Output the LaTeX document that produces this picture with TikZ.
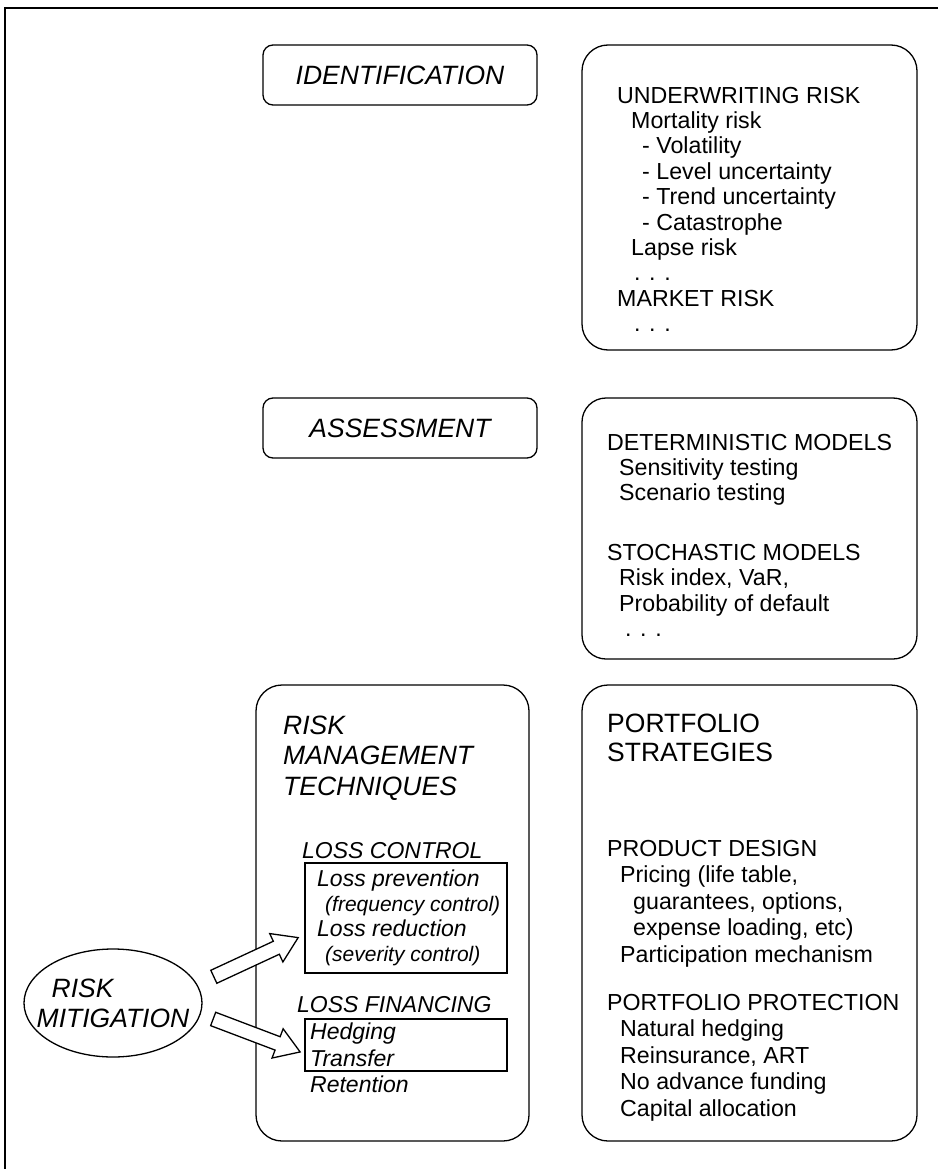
\documentclass[tikz,border=0pt]{standalone}
\usepackage{fontspec}
\setmainfont{Liberation Sans}
\usetikzlibrary{shapes.geometric,shapes.arrows}

\begin{document}
\begin{tikzpicture}[x=1pt,y=-1pt,
  box/.style={draw, line width=1.3pt, rounded corners=26pt, inner sep=0pt},
  tagbox/.style={draw, line width=1.3pt, rounded corners=10pt, inner sep=0pt, minimum width=274pt, minimum height=60pt, font=\fontsize{26.5}{30}\selectfont\itshape},
  inbox/.style={draw, line width=1.3pt, inner sep=0pt, minimum width=202pt},
  txt/.style={anchor=north west, align=left, inner sep=0pt, font=\fontsize{23.2}{25.4}\selectfont},
  headtxt/.style={anchor=north west, align=left, inner sep=0pt, font=\fontsize{26.5}{30.5}\selectfont},
  blockarrow/.style={single arrow, draw, fill=white, line width=1.3pt, inner xsep=0pt, inner ysep=6.5pt, single arrow head extend=8.5pt, single arrow tip angle=66, minimum height=93pt, sloped, midway}]
\useasboundingbox (0,0) rectangle (938,1169);
% Outer frame
\draw[line width=1.3pt] (938,8) -- (5,8) -- (5,1169);
% Define the boxes
\node[tagbox] at (400,75) (ident) {IDENTIFICATION};
\node[box, minimum width=335pt, minimum height=305pt] at (749.5,197.5) (risks) {};
\node[tagbox] at (400,428) (assess) {ASSESSMENT};
\node[box, minimum width=335pt, minimum height=261pt, rounded corners=24pt] at (749.5,528.5) (models) {};
\node[box, minimum width=273pt, minimum height=456pt] at (392.5,913) (techn) {};
\node[box, minimum width=335pt, minimum height=456pt] at (749.5,913) (strat) {};
\node[inbox, minimum height=110pt] at (406,918) (ctrl) {};
\node[inbox, minimum height=52pt] at (406,1045) (fin) {};
\node[ellipse, draw, line width=1.3pt, minimum width=178pt, minimum height=108pt, inner sep=0pt] at (113,1003) (mitig) {};
\node[align=left, inner sep=0pt, font=\fontsize{26.5}{30}\selectfont\itshape] at (mitig) (mitigtxt) {\hspace*{15pt}RISK\\MITIGATION};
% Define the texts
\node[txt] at (617,86.6) (uw) {UNDERWRITING RISK\\\hspace*{14pt}Mortality risk\\\hspace*{25pt}- Volatility\\\hspace*{25pt}- Level uncertainty\\\hspace*{25pt}- Trend uncertainty\\\hspace*{25pt}- Catastrophe\\\hspace*{14pt}Lapse risk\\\hspace*{17pt}. . .\\MARKET RISK\\\hspace*{17pt}. . .};
\node[txt] at (607,433.6) (det) {DETERMINISTIC MODELS\\\hspace*{12pt}Sensitivity testing\\\hspace*{12pt}Scenario testing\\[34pt]STOCHASTIC MODELS\\\hspace*{12pt}Risk index, VaR,\\\hspace*{12pt}Probability of default\\\hspace*{18pt}. . .};
\node[headtxt, font=\fontsize{26.5}{30.5}\selectfont\itshape] at (283,715.5) (rmt) {RISK\\MANAGEMENT\\TECHNIQUES};
\node[txt, font=\fontsize{23}{25}\selectfont\itshape] at (302,841.8) (lc) {LOSS CONTROL};
\node[txt, font=\fontsize{23}{25}\selectfont\itshape] at (317,869.8) (lcl) {Loss prevention\\\hspace*{8pt}{\fontsize{21}{25}\selectfont(frequency control)}\\Loss reduction\\\hspace*{8pt}{\fontsize{21}{25}\selectfont(severity control)}};
\node[txt, font=\fontsize{23}{25}\selectfont\itshape] at (297,995.8) (lf) {LOSS FINANCING};
\node[txt, font=\fontsize{23}{26.5}\selectfont\itshape] at (310,1022.8) (lfl) {Hedging\\Transfer\\Retention};
\node[headtxt, font=\fontsize{26.5}{29.5}\selectfont] at (607,713.5) (ps) {PORTFOLIO\\STRATEGIES};
\node[txt, font=\fontsize{23.2}{26.5}\selectfont] at (607,839.7) (psl) {PRODUCT DESIGN\\\hspace*{13pt}Pricing (life table,\\\hspace*{26pt}guarantees, options,\\\hspace*{26pt}expense loading, etc)\\\hspace*{13pt}Participation mechanism\\[21.5pt]PORTFOLIO PROTECTION\\\hspace*{13pt}Natural hedging\\\hspace*{13pt}Reinsurance, ART\\\hspace*{13pt}No advance funding\\\hspace*{13pt}Capital allocation};
% Draw the arrows
\coordinate (a1) at (209,979);
\coordinate (b1) at (293,940);
\coordinate (a2) at (208,1017);
\coordinate (b2) at (295,1050);
\path (a1) -- (b1) node[blockarrow] (arr1) {};
\path (a2) -- (b2) node[blockarrow] (arr2) {};
\end{tikzpicture}
\end{document}
